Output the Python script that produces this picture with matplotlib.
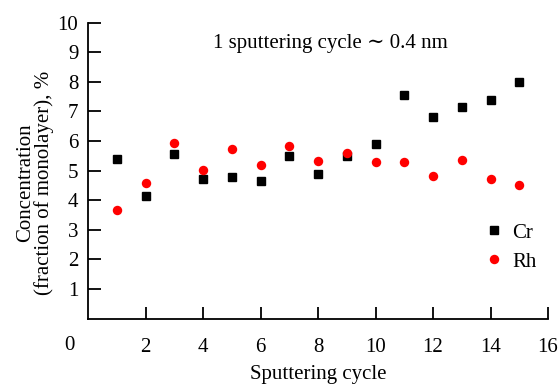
import matplotlib
matplotlib.use("Agg")
import matplotlib.pyplot as plt

plt.rcParams["font.family"] = ["Liberation Serif", "DejaVu Serif"]

cycles = [1, 2, 3, 4, 5, 6, 7, 8, 9, 10, 11, 12, 13, 14, 15]
cr = [5.38, 4.15, 5.56, 4.72, 4.77, 4.64, 5.50, 4.87, 5.48, 5.91, 7.57, 6.81, 7.14, 7.37, 8.01]
rh = [3.68, 4.59, 5.92, 5.01, 5.74, 5.20, 5.84, 5.33, 5.60, 5.30, 5.28, 4.82, 5.36, 4.72, 4.51]

xticks = [2, 4, 6, 8, 10, 12, 14, 16]
yticks = [1, 2, 3, 4, 5, 6, 7, 8, 9, 10]

fig = plt.figure(figsize=(5.6, 3.85), dpi=100)
ax = fig.add_axes([88 / 560, (385 - 318.5) / 385, (548 - 88) / 560, (318.5 - 22.7) / 385])

ax.plot(cycles, cr, "s", color="black", markersize=6, label="Cr", clip_on=False)
ax.plot(cycles, rh, "o", color="red", markersize=6.8, markeredgewidth=0, label="Rh", clip_on=False)

ax.set_xlim(0, 16)
ax.set_ylim(0, 10)
ax.set_xticks(xticks)
ax.set_yticks(yticks)
for s in ["top", "right"]:
    ax.spines[s].set_visible(False)
for s in ["left", "bottom"]:
    ax.spines[s].set_linewidth(1.3)
ax.tick_params(axis="both", direction="in", length=9, width=1.3, labelsize=15)
ax.tick_params(axis="x", pad=14)
ax.tick_params(axis="y", pad=7)

# shared origin label
ax.text(-0.04, -0.09, "0", transform=ax.transAxes, fontsize=15, ha="center", va="center")

ax.set_xlabel("Sputtering cycle", fontsize=15, labelpad=6)
ax.set_ylabel("Concentration\n(fraction of monolayer), %", fontsize=15, linespacing=0.9)
ax.yaxis.set_label_coords(-0.074, 0.46)

ax.text(0.272, 0.93, "1 sputtering cycle \u223c 0.4 nm", transform=ax.transAxes, fontsize=15, va="center")

ax.legend(loc="lower right", bbox_to_anchor=(0.993, 0.13), frameon=False, fontsize=15,
          handlelength=1.4, handletextpad=0.15, labelspacing=0.45, borderaxespad=0)

fig.savefig("out.png", dpi=100)
